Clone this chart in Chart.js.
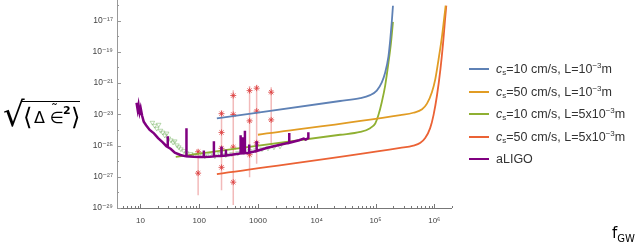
<!DOCTYPE html>
<html>
<head>
<meta charset="utf-8">
<script src="https://cdn.jsdelivr.net/npm/chart.js@4.4.1/dist/chart.umd.min.js"></script>
<style>
  body { margin: 0; background: #fff; }
  #wrap { position: relative; width: 641px; height: 247px; overflow: hidden; }
  #ytitle { position: absolute; left: 0; top: 0; font-family: "DejaVu Sans", sans-serif; color: #000; }
  #ytitle span { position: absolute; white-space: nowrap; line-height: 1; }
  #xtitle { position: absolute; left: 612px; top: 226px; font-family: "DejaVu Sans", sans-serif; font-size: 15px; color: #000; line-height: 1; }
  #xtitle sub { font-size: 10px; vertical-align: -4px; }
  #legend { position: absolute; left: 469px; top: 58px; font-family: "Liberation Sans", Arial, sans-serif; font-size: 12.5px; color: #333; }
  .item { height: 22.5px; display: flex; align-items: center; white-space: nowrap; }
  .swatch { width: 20px; height: 2px; margin-right: 7px; }
  .item sub { font-size: 8px; vertical-align: -2px; }
  .item sup { font-size: 8px; vertical-align: 5px; }
</style>
</head>
<body>
<div id="wrap">
  <canvas id="chart" width="641" height="247"></canvas>
  <div id="ytitle">
    <span style="left:3px;top:97px;font-size:34px;">√</span>
    <span style="left:21px;top:101px;width:59px;height:0;border-top:1.3px solid #000;"></span>
    <span style="left:23px;top:105px;font-size:24px;">⟨</span>
    <span style="left:34px;top:110px;font-size:16px;">Δ</span>
    <span style="left:50px;top:110px;font-size:16px;">∈</span>
    <span style="left:51px;top:102px;font-size:14px;">˜</span>
    <span style="left:63px;top:105px;font-size:11px;font-weight:bold;">2</span>
    <span style="left:71px;top:105px;font-size:24px;">⟩</span>
  </div>
  <div id="xtitle">f<sub>GW</sub></div>
  <div id="legend"></div>
</div>
<script>
// ── Model curves (frequency in Hz, strain) ────────────────
const blueF   = [200, 2.5e4, 5.5e4, 8.1e4, 1.05e5, 1.28e5, 1.46e5, 1.66e5, 1.78e5, 1.9e5, 1.98e5];
const blueH   = [5.5e-24, 7.1e-23, 1.08e-22, 1.7e-22, 3.3e-22, 1.1e-21, 4.7e-21, 5.2e-20, 5.8e-19, 1.05e-17, 9e-17];

const orangeF = [1000, 2.63e5, 4.4e5, 6.2e5, 7.5e5, 9.1e5, 1.04e6, 1.18e6, 1.35e6, 1.48e6, 1.56e6];
const orangeH = [4.9e-25, 8.9e-24, 1.26e-23, 2.1e-23, 4.8e-23, 2.6e-22, 1.8e-21, 3.2e-20, 9.5e-19, 1.7e-17, 9e-17];

const greenF  = [40, 2.5e4, 5.5e4, 8.1e4, 9.9e4, 1.12e5, 1.28e5, 1.46e5, 1.66e5, 1.83e5, 1.98e5];
const greenH  = [1.9e-26, 4.9e-25, 7.4e-25, 1.3e-24, 2.6e-24, 8.9e-24, 6.2e-23, 6.9e-22, 2e-20, 3.6e-19, 8.3e-18];

const redF    = [200, 2.63e5, 4.4e5, 5.8e5, 7e5, 8.5e5, 9.7e5, 1.11e6, 1.27e6, 1.41e6, 1.52e6, 1.6e6];
const redH    = [1.5e-27, 7.1e-26, 1e-25, 1.5e-25, 3e-25, 1.3e-24, 8.9e-24, 1.6e-22, 7.6e-21, 3.6e-19, 1.05e-17, 9e-17];

// ── aLIGO sensitivity (with line spikes) ──────────────────
const ligoF = [8.6, 9.0, 9.3, 9.7, 10.1, 10.7, 11.4, 12.5, 14.4, 17, 20, 24, 27.7,
               29.2, 29.2, 29.2, 33, 38.5, 48, 57, 60.8, 60.8, 60.8, 80, 102,
               120, 120, 120, 150, 178, 178, 178, 198, 240, 240, 240, 285, 285, 285,
               380, 507, 507, 507, 548, 548, 548, 600, 600, 600, 710, 710, 710,
               950, 950, 950, 1400, 2700, 3410, 3410, 3410, 5000, 6000, 6500, 7200, 7200];
const ligoH = [5.5e-23, 1.9e-23, 4e-23, 1.3e-23, 2.5e-23, 8e-24, 3.4e-24, 2e-24, 1e-24, 6e-25, 3e-25, 1.6e-25, 9.1e-26,
               8e-26, 3.9e-25, 8e-26, 6e-26, 3.5e-26, 2.5e-26, 2.1e-26, 2.05e-26, 1.3e-24, 2.05e-26, 1.9e-26, 1.85e-26,
               1.85e-26, 4.9e-26, 1.85e-26, 1.9e-26, 2e-26, 1.9e-25, 2e-26, 2.1e-26, 2.2e-26, 8.7e-26, 2.2e-26, 2.3e-26, 5.4e-26, 2.3e-26,
               2.7e-26, 3.1e-26, 4.5e-25, 3.1e-26, 3.2e-26, 3.4e-25, 3.2e-26, 3.3e-26, 8.9e-25, 3.3e-26, 3.5e-26, 1.17e-25, 3.5e-26,
               4.5e-26, 1.9e-25, 4.5e-26, 7e-26, 1.25e-25, 1.5e-25, 6.3e-25, 1.5e-25, 2.2e-25, 2.8e-25, 2.4e-25, 3e-25, 7.2e-25];

// ── Green triangles (other estimates) ─────────────────────
const triF = [16, 17.5, 19, 20.5, 22, 24, 26, 28, 30, 33, 36, 38.5, 42, 45, 49, 55, 61, 72, 84,
              102, 125, 152, 185, 224, 284, 360, 456, 577, 730, 925, 1170, 1480, 1870, 2370];
const triH = [2.95e-24, 1.9e-24, 1.23e-24, 2.2e-24, 9.1e-25, 6.9e-25, 4.5e-25, 6e-25, 2.9e-25, 2.2e-25, 1.6e-25, 1.9e-25, 1.05e-25, 7.9e-26, 5.9e-26, 4.5e-26, 3.3e-26, 2.9e-26, 2.5e-26,
              2.9e-26, 2.1e-26, 2.5e-26, 2.1e-26, 2.9e-26, 2.5e-26, 2.9e-26, 3.3e-26, 3.9e-26, 4.5e-26, 5.1e-26, 5.9e-26, 6.8e-26, 7.9e-26, 9.1e-26];

// ── Red points with error bars ────────────────────────────
const ebF  = [96, 240, 380, 720, 950, 1680];
const ebHi = [5.5e-26, 1.85e-23, 3.5e-22, 6.6e-22, 7.8e-22, 5.4e-22];
const ebLo = [6.6e-29, 1.35e-28, 1.55e-29, 9.3e-28, 6.8e-27, 1.05e-25];
const starF = [96, 96, 240, 240, 240, 240, 380, 380, 380, 380, 720, 720, 720, 950, 950, 950, 1680, 1680];
const starH = [4e-26, 1.7e-27, 1.1e-23, 6.9e-25, 6.6e-26, 4e-27, 1.6e-22, 9.8e-24, 7.9e-26, 4.5e-28,
               3.3e-22, 3.8e-24, 2.6e-26, 4.7e-22, 1.6e-23, 1.5e-25, 2.6e-22, 4.4e-24];

// ── Axis ticks ────────────────────────────────────────────
const xTickVals   = [10, 100, 1000, 1e4, 1e5, 1e6];
const xTickLabels = ["10", "100", "1000", "10⁴", "10⁵", "10⁶"];
const yTickExp    = [-29, -27, -25, -23, -21, -19, -17];
const yTickLabels = ["10⁻²⁹", "10⁻²⁷", "10⁻²⁵", "10⁻²³", "10⁻²¹", "10⁻¹⁹", "10⁻¹⁷"];

// ── Legend ────────────────────────────────────────────────
const seriesNames = [
  "<i>c</i><sub>s</sub>=10 cm/s, L=10<sup>−3</sup>m",
  "<i>c</i><sub>s</sub>=50 cm/s, L=10<sup>−3</sup>m",
  "<i>c</i><sub>s</sub>=10 cm/s, L=5x10<sup>−3</sup>m",
  "<i>c</i><sub>s</sub>=50 cm/s, L=5x10<sup>−3</sup>m",
  "aLIGO"
];
const seriesColors = ["#5e81b5", "#e19c24", "#8fb032", "#eb6235", "#800080"];

const pts = (xs, ys) => xs.map((x, i) => ({ x, y: ys[i] }));

// error bars as one broken line
const ebPts = [];
ebF.forEach((f, i) => {
  ebPts.push({ x: f, y: ebHi[i] }, { x: f, y: ebLo[i] }, { x: f, y: null });
});

function curve(name, color, xs, ys, order) {
  return {
    label: name, data: pts(xs, ys), borderColor: color, borderWidth: 1.8,
    pointRadius: 0, cubicInterpolationMode: "monotone", order
  };
}

// draws axis lines and inward tick marks (Mathematica style)
const inwardTicks = {
  id: "inwardTicks",
  afterDraw(chart) {
    const { ctx, chartArea: a, scales: { x, y } } = chart;
    ctx.save();
    ctx.lineWidth = 1;
    ctx.strokeStyle = "#777";
    ctx.beginPath();
    ctx.moveTo(a.left, a.bottom + 0.5); ctx.lineTo(a.right, a.bottom + 0.5);
    x.ticks.forEach(t => {
      const px = Math.round(x.getPixelForValue(t.value)) + 0.5;
      const len = isMajorX(t.value) ? 4 : 2;
      ctx.moveTo(px, a.bottom); ctx.lineTo(px, a.bottom - len);
    });
    ctx.stroke();
    ctx.strokeStyle = "#999";
    ctx.beginPath();
    ctx.moveTo(a.left + 0.5, 0); ctx.lineTo(a.left + 0.5, a.bottom);
    y.ticks.forEach(t => {
      const py = Math.round(y.getPixelForValue(t.value)) + 0.5;
      const len = yLabelFor(t.value) ? 4 : 2;
      ctx.moveTo(a.left, py); ctx.lineTo(a.left + len, py);
    });
    ctx.stroke();
    ctx.restore();
  }
};

function xIndex(v) {
  return xTickVals.findIndex(t => Math.abs(Math.log10(v) - Math.log10(t)) < 1e-6);
}
function isMajorX(v) { return xIndex(v) >= 0; }
function yLabelFor(v) {
  const i = yTickExp.findIndex(e => Math.abs(Math.log10(v) - e) < 1e-6);
  return i >= 0 ? yTickLabels[i] : "";
}

const chart = new Chart(document.getElementById("chart"), {
  type: "line",
  data: {
    datasets: [
      curve(seriesNames[0], seriesColors[0], blueF, blueH, 1),
      curve(seriesNames[1], seriesColors[1], orangeF, orangeH, 2),
      curve(seriesNames[2], seriesColors[2], greenF, greenH, 3),
      curve(seriesNames[3], seriesColors[3], redF, redH, 4),
      {
        label: seriesNames[4], data: pts(ligoF, ligoH), borderColor: seriesColors[4],
        borderWidth: 2.5, pointRadius: 0, tension: 0, order: 0
      },
      {
        label: "bars", data: ebPts, borderColor: "rgba(232,130,130,0.55)", borderWidth: 1.5,
        pointRadius: 0, spanGaps: false, order: 6
      },
      {
        label: "stars", data: pts(starF, starH), showLine: false, pointStyle: "star",
        pointRadius: 3, borderColor: "rgba(220,60,60,0.8)", borderWidth: 1, order: 5
      },
      {
        label: "triangles", data: pts(triF, triH), showLine: false, pointStyle: "triangle",
        rotation: 180, pointRadius: 2.6, borderColor: "rgba(120,180,100,0.65)",
        backgroundColor: "rgba(0,0,0,0)", borderWidth: 0.8, order: 7
      }
    ]
  },
  options: {
    responsive: false,
    animation: false,
    devicePixelRatio: 1,
    layout: { padding: { left: 87, right: 189, top: -1, bottom: 0 } },
    plugins: { legend: { display: false }, tooltip: { enabled: false } },
    scales: {
      x: {
        type: "logarithmic", min: 4, max: 2e6,
        grid: { display: false, drawTicks: false },
        border: { display: false },
        afterBuildTicks: s => {
          const t = [];
          for (let e = 0; e <= 6; e++)
            for (let k = 1; k <= 9; k++) {
              const v = k * Math.pow(10, e);
              if (v >= 4 && v <= 2e6) t.push({ value: v });
            }
          s.ticks = t;
        },
        afterFit: s => { s.height = 39; s.paddingLeft = 0; s.paddingRight = 0; },
        ticks: {
          autoSkip: false, maxRotation: 0, padding: 8, color: "#444",
          font: { family: "Liberation Sans, DejaVu Sans", size: 8 },
          callback: v => { const i = xIndex(v); return i >= 0 ? xTickLabels[i] : ""; }
        }
      },
      y: {
        type: "logarithmic", min: 1e-29, max: 1e-16,
        grid: { display: false, drawTicks: false },
        border: { display: false },
        afterBuildTicks: s => {
          const t = [];
          for (let e = -29; e <= -16; e++) t.push({ value: Math.pow(10, e) });
          s.ticks = t;
        },
        afterFit: s => { s.width = 30; s.paddingTop = 0; s.paddingBottom = 0; },
        ticks: {
          autoSkip: false, padding: 4, color: "#444",
          font: { family: "Liberation Sans, DejaVu Sans", size: 8.5 },
          callback: v => yLabelFor(v)
        }
      }
    }
  },
  plugins: [inwardTicks]
});

// ── HTML legend ───────────────────────────────────────────
const legendEl = document.getElementById("legend");
seriesNames.forEach((name, i) => {
  const row = document.createElement("div");
  row.className = "item";
  row.innerHTML = `<span class="swatch" style="background:${seriesColors[i]}"></span><span>${name}</span>`;
  legendEl.appendChild(row);
});
</script>
</body>
</html>
